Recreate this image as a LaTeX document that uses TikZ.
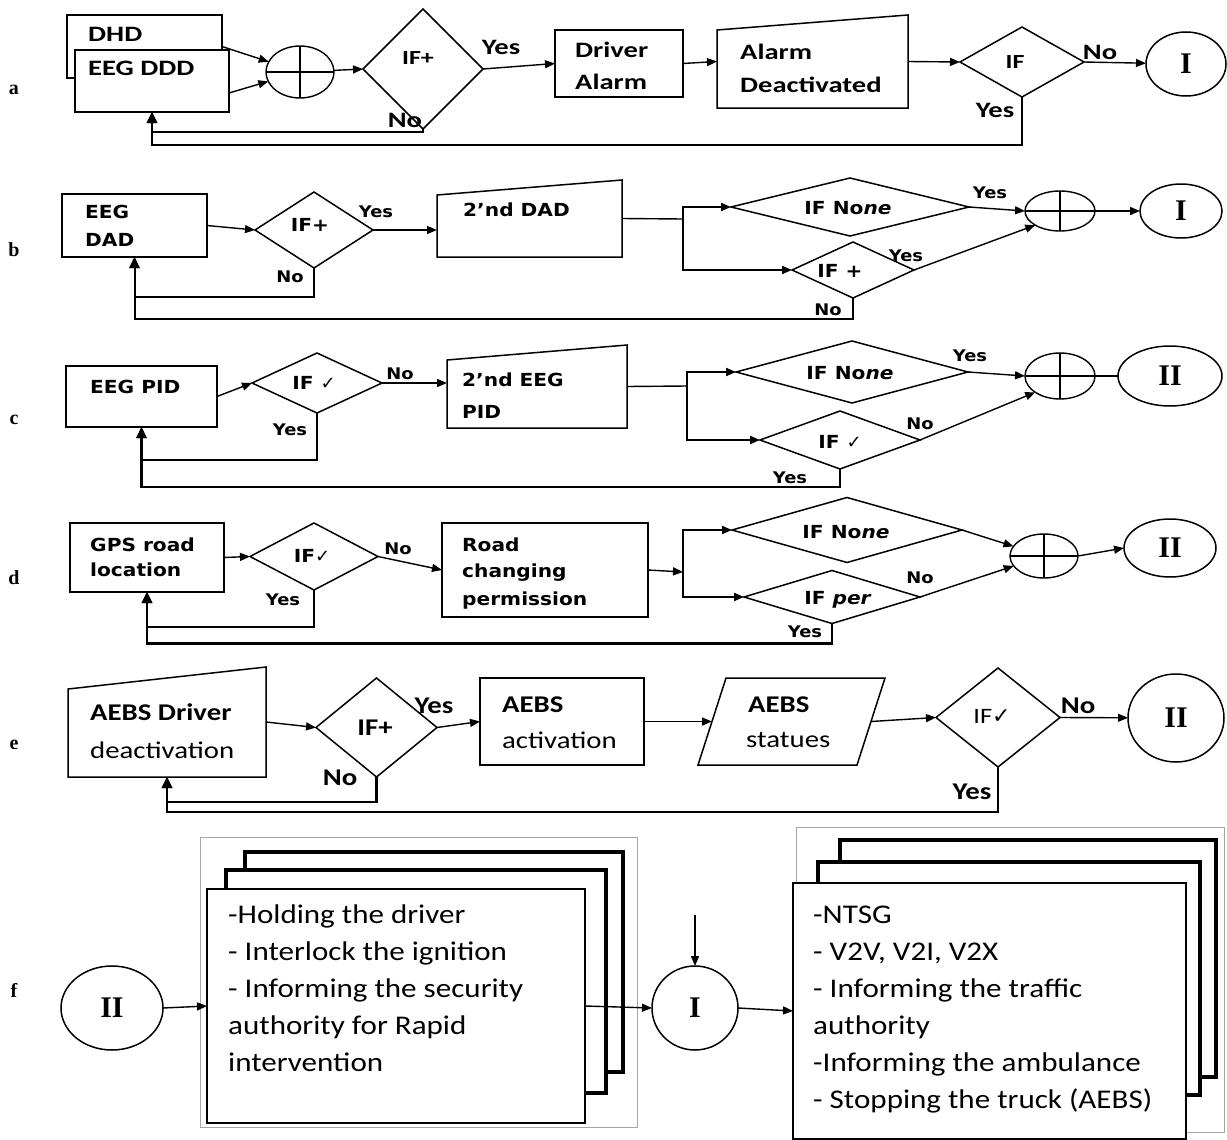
\documentclass[tikz,border=0pt]{standalone}
\usepackage{fontspec}
\setmainfont{Carlito}
\newfontfamily\serifb{Liberation Serif}
\newfontfamily\symf{DejaVu Sans}
\newfontfamily\fontrowa[FakeStretch=1.3]{Carlito}
\newfontfamily\fontrowb[FakeStretch=1.12]{DejaVu Sans}
\newfontfamily\fontrowe[FakeStretch=1.2]{Carlito}
\newfontfamily\fontrowf[FakeStretch=1.15]{Carlito}
\usetikzlibrary{arrows.meta,shapes.geometric}

\newcommand{\ck}{{\symf ✓}}

\tikzset{
  shp/.style={inner sep=0pt, outer sep=0pt, draw=none},
  ol/.style={draw, line width=1.5pt, line join=miter},
  plain/.style={line width=1.4pt},
  arr/.style={line width=1.4pt, -{Triangle[length=10pt,width=8pt]}},
  brarr/.style={line width=2pt, -{Triangle[length=10pt,width=8pt]}},
  fbarr/.style={line width=2.6pt, -{Triangle[length=11pt,width=10pt]}},
  term/.style={ellipse, draw, line width=1.5pt, inner sep=0pt, outer sep=0pt,
               font=\serifb\bfseries\fontsize{30}{30}\selectfont},
  rowlbl/.style={inner sep=0pt, font=\serifb\bfseries\fontsize{20}{20}\selectfont},
  ta/.style={inner sep=0pt, anchor=west, font=\fontrowa\bfseries\fontsize{22}{22}\selectfont},
  tb/.style={inner sep=0pt, anchor=west, font=\fontrowb\bfseries\fontsize{18}{18}\selectfont},
  te/.style={inner sep=0pt, anchor=west, font=\fontrowe\bfseries\fontsize{24}{24}\selectfont},
  ya/.style={inner sep=0pt, font=\fontrowa\bfseries\fontsize{22}{22}\selectfont},
  yb/.style={inner sep=0pt, font=\fontrowb\bfseries\fontsize{16}{16}\selectfont},
  ye/.style={inner sep=0pt, font=\fontrowe\bfseries\fontsize{24}{24}\selectfont},
  stack/.style={draw, line width=3.2pt, fill=white},
  frame/.style={draw=black!35, line width=1pt},
  list/.style={inner sep=0pt, anchor=north west, align=left,
               font=\fontrowf\fontsize{27}{37}\selectfont}
}

% decision diamond: name, x, y, width, height
\newcommand{\mkdec}[5]{%
  \node[shp, minimum width=#4, minimum height=#5] (#1) at (#2,#3) {};
  \draw[ol] (#1.north) -- (#1.east) -- (#1.south) -- (#1.west) -- cycle;}
% summing junction: name, x, y, width, height
\newcommand{\mksum}[5]{%
  \node[shp, ellipse, draw, line width=1.4pt, minimum width=#4, minimum height=#5] (#1) at (#2,#3) {};
  \draw[plain] (#1.north) -- (#1.south) (#1.west) -- (#1.east);}
% plain process box: name, x, y, width, height
\newcommand{\mkbox}[5]{%
  \node[shp, ol, fill=white, minimum width=#4, minimum height=#5] (#1) at (#2,#3) {};}
% manual input (sloped top): name, x, y, width, height, drop of the top-left corner
\newcommand{\mkmanual}[6]{%
  \node[shp, minimum width=#4, minimum height=#5] (#1) at (#2,#3) {};
  \draw[ol] (#1.south west) -- ([yshift=-#6pt]#1.north west) -- (#1.north east)
            -- (#1.south east) -- cycle;}

\begin{document}
\begin{tikzpicture}[x=1pt,y=-1pt]
\useasboundingbox (0,0) rectangle (1227,1140);

% ---------------- row a ----------------
\node[rowlbl] (la) at (14,90) {a};
\mkbox{dhd}{144.5}{46.5}{155}{63}
\mkbox{eegddd}{152}{81}{154}{62}
\node[ta] (tdhd) at (88,34) {DHD};
\node[ta] (teegddd) at (88,68) {EEG DDD};
\mksum{suma}{300}{72}{68}{52}
\mkdec{ifa1}{423}{69}{120}{120}
\node[ta, anchor=center, font=\fontrowa\bfseries\fontsize{20}{20}\selectfont] (tifa1) at (418,58) {IF+};
\mkbox{alarm}{619}{63.5}{128}{67}
\node[ta] (talarm1) at (575,50) {Driver};
\node[ta] (talarm2) at (575,82) {Alarm};
\mkmanual{alarmd}{812.5}{61.5}{191}{93}{15}
\node[ta] (talarmd1) at (740,52) {Alarm};
\node[ta] (talarmd2) at (740,85) {Deactivated};
\mkdec{ifa2}{1022}{62}{124}{70}
\node[ta, anchor=center, font=\fontrowa\bfseries\fontsize{20}{20}\selectfont] (tifa2) at (1015,62) {IF};
\node[term, minimum width=80, minimum height=64] (cira) at (1186,64) {I};

\draw[arr] (dhd.east) -- (suma);
\draw[arr] ([yshift=-12pt]eegddd.east) -- (suma);
\draw[arr] (suma) -- (ifa1.west);
\draw[arr] (ifa1.east) -- (alarm.west);
\draw[arr] (alarm.east) -- (alarmd.west);
\draw[arr] (alarmd.east) -- (ifa2.west);
\draw[arr] (ifa2.east) -- (cira);
\draw[fbarr] (ifa1.south) -- ++(0,3) -| (eegddd.south);
\draw[fbarr] (ifa2.south) -- ++(0,48) -| (eegddd.south);
\node[ya] (ya1) at (501,47) {Yes};
\node[ya] (na1) at (405,120) {No};
\node[ya] (na2) at (1100,52) {No};
\node[ya] (ya2) at (995,110) {Yes};

% ---------------- row b ----------------
\node[rowlbl] (lb) at (14,250) {b};
\mkbox{eegdad}{134.5}{225.5}{145}{63}
\node[tb] (teeg) at (85,212) {EEG};
\node[tb] (tdad) at (85,240) {DAD};
\mkdec{ifb1}{314}{230}{118}{76}
\node[tb, anchor=center] (tifb1) at (310,225) {IF+};
\mkmanual{dadb}{529.5}{218.5}{185}{77}{15}
\node[tb] (tdadb) at (463,210) {2’nd DAD};
\coordinate (jb) at (683,219);
\mkdec{ifb2}{850}{207}{238}{58}
\node[tb, anchor=center] (tifb2) at (848,208) {IF No\textit{ne}};
\mkdec{ifb3}{853}{270}{122}{56}
\node[tb, anchor=center] (tifb3) at (840,271) {IF +};
\mksum{sumb}{1060}{211}{70}{40}
\node[term, minimum width=82, minimum height=54] (cirb) at (1181,211) {I};

\draw[arr] (eegdad.east) -- (ifb1.west);
\draw[arr] (ifb1.east) -- (ifb1.east -| dadb.west);
\draw[plain] (dadb.east) -- (jb);
\draw[brarr] (jb) |- (ifb2.west);
\draw[brarr] (jb) |- (ifb3.west);
\draw[arr] (ifb2.east) -- (sumb.west);
\draw[arr] (ifb3.east) -- (sumb.south west);
\draw[arr] (sumb.east) -- (cirb.west);
\draw[fbarr, line width=2pt] (ifb1.south) -- ++(0,29) -| (eegdad.south);
\draw[fbarr, line width=2pt] (ifb3.south) -- ++(0,21) -| (eegdad.south);
\node[yb] (yb1) at (376,212) {Yes};
\node[yb] (nb1) at (290,277) {No};
\node[yb] (yb2) at (990,193) {Yes};
\node[yb] (yb3) at (906,256) {Yes};
\node[yb] (nb2) at (828,310) {No};

% ---------------- row c ----------------
\node[rowlbl] (lc) at (14,420) {c};
\mkbox{eegpid}{141.5}{396.5}{151}{61}
\node[tb] (teegpid) at (90,387) {EEG PID};
\mkdec{ifc1}{317}{383}{130}{60}
\node[tb, anchor=center] (tifc1) at (314,383) {IF \ck};
\mkmanual{pidc}{537}{386.5}{180}{83}{15}
\node[tb] (tpidc1) at (462,380) {2’nd EEG};
\node[tb] (tpidc2) at (462,412) {PID};
\coordinate (jc) at (687,386);
\mkdec{ifc2}{852}{372}{232}{62}
\node[tb, anchor=center] (tifc2) at (850,373) {IF No\textit{ne}};
\mkdec{ifc3}{840}{440}{160}{58}
\node[tb, anchor=center] (tifc3) at (840,442) {IF \ck};
\mksum{sumc}{1060}{376}{70}{46}
\node[term, minimum width=104, minimum height=60] (circ) at (1170,376) {II};

\draw[arr] (eegpid.east) -- (ifc1.west);
\draw[arr] (ifc1.east) -- (ifc1.east -| pidc.west);
\draw[plain] (pidc.east) -- (jc);
\draw[brarr] (jc) |- (ifc2.west);
\draw[brarr] (jc) |- (ifc3.west);
\draw[arr] (ifc2.east) -- (sumc.west);
\draw[arr] (ifc3.east) -- (sumc.south west);
\draw[plain] (sumc.east) -- (circ.west);
\draw[fbarr, line width=2.2pt] (ifc1.south) -- ++(0,47) -| (eegpid.south);
\draw[fbarr, line width=2.2pt] (ifc3.south) -- ++(0,18) -| (eegpid.south);
\node[yb] (nc1) at (400,374) {No};
\node[yb] (yc1) at (290,430) {Yes};
\node[yb] (yc2) at (970,356) {Yes};
\node[yb] (nc2) at (920,424) {No};
\node[yb] (yc3) at (790,478) {Yes};

% ---------------- row d ----------------
\node[rowlbl] (ld) at (14,578) {d};
\mkbox{gps}{147}{557.5}{154}{69}
\node[tb] (tgps1) at (90,545) {GPS road};
\node[tb] (tgps2) at (90,570) {location};
\mkdec{ifd1}{314}{556.5}{128}{67}
\node[tb, anchor=center] (tifd1) at (312,556) {IF\ck};
\mkbox{road}{545}{570}{206}{94}
\node[tb] (troad1) at (462,545) {Road};
\node[tb] (troad2) at (462,573) {changing};
\node[tb] (troad3) at (462,601) {permission};
\coordinate (jd) at (683,572);
\mkdec{ifd2}{847}{530}{230}{65}
\node[tb, anchor=center] (tifd2) at (846,532) {IF No\textit{ne}};
\mkdec{ifd3}{832}{597}{176}{53}
\node[tb, anchor=center] (tifd3) at (838,600) {IF \textit{per}};
\mksum{sumd}{1044}{556}{68}{44}
\node[term, minimum width=92, minimum height=58] (cird) at (1170,548) {II};

\draw[arr] (gps.east) -- (ifd1.west);
\draw[arr] (ifd1.east) -- (road.west);
\draw[arr] (road.east) -- (jd);
\draw[brarr] (jd) |- (ifd2.west);
\draw[brarr] (jd) |- (ifd3.west);
\draw[arr] (ifd2.east) -- (sumd);
\draw[arr] (ifd3.east) -- (sumd);
\draw[arr] (sumd.east) -- (cird.west);
\draw[fbarr] (ifd1.south) -- ++(0,37) -| (gps.south);
\draw[fbarr] (ifd3.south) -- ++(0,20) -| (gps.south);
\node[yb] (nd1) at (398,549) {No};
\node[yb] (yd1) at (283,600) {Yes};
\node[yb] (nd2) at (920,578) {No};
\node[yb] (yd2) at (805,632) {Yes};

% ---------------- row e ----------------
\node[rowlbl] (le) at (14,745) {e};
\mkmanual{aebsd}{167}{722}{198}{110}{22}
\node[te] (taebsd1) at (90,712) {AEBS Driver};
\node[te, font=\fontrowe\fontsize{24}{24}\selectfont] (taebsd2) at (90,750) {deactivation};
\mkdec{ife1}{376.5}{727.5}{121}{99}
\node[te, anchor=center] (tife1) at (375,728) {IF+};
\mkbox{aebsa}{562}{721.5}{164}{87}
\node[te] (taebsa1) at (502,705) {AEBS};
\node[te, font=\fontrowe\fontsize{24}{24}\selectfont] (taebsa2) at (502,740) {activation};
\node[shp, minimum width=187, minimum height=87] (aebss) at (791.5,721.5) {};
\draw[ol] ([xshift=28pt]aebss.north west) -- (aebss.north east)
          -- ([xshift=-28pt]aebss.south east) -- (aebss.south west) -- cycle;
\node[te] (taebss1) at (748,705) {AEBS};
\node[te, font=\fontrowe\fontsize{24}{24}\selectfont] (taebss2) at (746,740) {statues};
\mkdec{ife2}{998}{717.5}{124}{99}
\node[te, anchor=center, font=\fontrowe\fontsize{22}{22}\selectfont] (tife2) at (992,716) {IF\ck};
\node[term, minimum width=96, minimum height=88] (cire) at (1176,718) {II};

\draw[arr] (aebsd.east) -- (ife1.west);
\draw[arr] (ife1.east) -- (aebsa.west);
\draw[arr] (aebsa.east) -- ([xshift=14pt]aebss.west);
\draw[arr] ([xshift=-14pt]aebss.east) -- (ife2.west);
\draw[arr] (ife2.east) -- (cire);
\draw[fbarr] (ife1.south) -- ++(0,25) -| (aebsd.south);
\draw[fbarr] (ife2.south) -- ++(0,45) -| (aebsd.south);
\node[ye] (ye1) at (434,706) {Yes};
\node[ye] (ne1) at (340,778) {No};
\node[ye] (ne2) at (1078,706) {No};
\node[ye] (ye2) at (972,792) {Yes};

% ---------------- row f ----------------
\node[rowlbl] (lf) at (14,990) {f};
\draw[frame] (200,837) rectangle (637,1127);
\draw[frame] (796,827) rectangle (1224,1132);
\draw[stack] (245,852) rectangle (623,1072);
\draw[stack] (226,870) rectangle (606,1093);
\node[shp, stack, line width=2.4pt, minimum width=378, minimum height=234] (lfront) at (396,1006) {};
\node[list] (tlfront) at (228,905) {-Holding the driver\\- Interlock the ignition\\- Informing the security\\authority for Rapid\\intervention};
\draw[stack] (840,840) rectangle (1216,1077);
\draw[stack] (818,862) rectangle (1200,1095);
\node[shp, stack, line width=2.4pt, minimum width=393, minimum height=256] (rfront) at (989.5,1011) {};
\node[list] (trfront) at (813,906) {-NTSG\\- V2V, V2I, V2X\\- Informing the traffic\\authority\\-Informing the ambulance\\- Stopping the truck (AEBS)};
\node[term, minimum width=102, minimum height=84] (cirf2) at (112,1008) {II};
\node[term, minimum width=86, minimum height=84] (cirf1) at (695,1008) {I};
\coordinate (intoI) at (695,915);

\draw[arr] (cirf2.east) -- (lfront.west);
\draw[arr] (lfront.east) -- (cirf1.west);
\draw[arr] (intoI) -- (cirf1.north);
\draw[arr] (cirf1.east) -- (rfront.west);
\end{tikzpicture}
\end{document}
